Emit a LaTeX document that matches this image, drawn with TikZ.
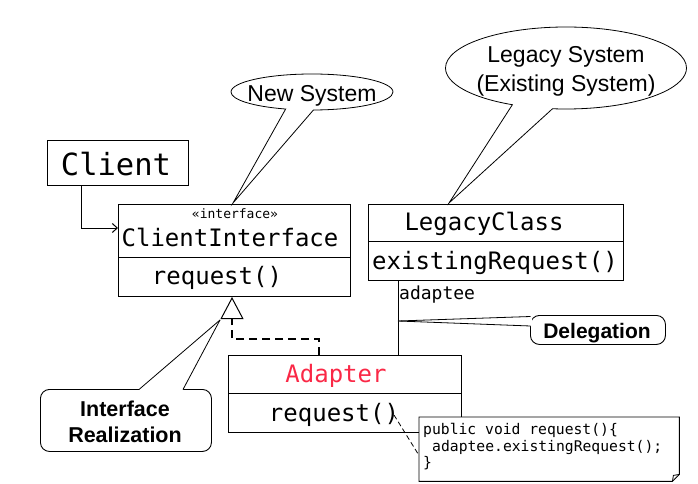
\documentclass[tikz,border=0pt]{standalone}
\usepackage{fontspec}
\setmainfont{Liberation Sans}
\newfontfamily\monof{DejaVu Sans Mono}
\usetikzlibrary{shapes.callouts,arrows.meta}
\definecolor{adred}{RGB}{250,40,70}
\tikzset{
  box/.style={draw, line width=1pt, anchor=north west, inner sep=0pt},
  lbl/.style={inner sep=0pt, anchor=base},
  bubble/.style={ellipse callout, draw, fill=white, line width=0.8pt, inner sep=0pt},
  callbox/.style={draw, fill=white, line width=0.9pt, rounded corners=9pt, anchor=north west, inner sep=0pt},
  tail/.style={line width=0.8pt},
  realize/.style={line width=1.1pt, dash pattern=on 8pt off 5pt, -{Triangle[open,length=22pt,width=23pt,line width=1pt]}},
  assoc/.style={line width=1pt, -{Straight Barb[length=5pt,width=9pt]}},
}
\begin{document}
\begin{tikzpicture}[x=1pt,y=-1pt]
\useasboundingbox (0,0) rectangle (698,484);

% Client
\node[box, minimum width=141, minimum height=45] (cl) at (47,140) {};
\node[lbl, font=\monof\fontsize{30.5}{30.5}\selectfont] (clt) at (116,175) {Client};

% ClientInterface
\node[box, minimum width=232, minimum height=53] (ci) at (118,204) {};
\node[box, minimum width=232, minimum height=39] (cib) at (118,257) {};
\node[lbl, font=\monof\fontsize{13}{13}\selectfont] (cis) at (235,218.5) {«interface»};
\node[lbl, font=\monof\fontsize{24}{24}\selectfont] (cit) at (230,246) {ClientInterface};
\node[lbl, font=\monof\fontsize{24}{24}\selectfont] (cir) at (217,284) {request()};

% LegacyClass
\node[box, minimum width=255, minimum height=37] (lc) at (368,204) {};
\node[box, minimum width=255, minimum height=39] (lcb) at (368,241) {};
\node[lbl, font=\monof\fontsize{24}{24}\selectfont] (lct) at (484,230) {LegacyClass};
\node[lbl, font=\monof\fontsize{24}{24}\selectfont] (lcr) at (495,269.5) {existingRequest()};
\node[inner sep=0pt, anchor=base west, font=\monof\fontsize{18}{18}\selectfont] (adt) at (399,299) {adaptee};

% Adapter
\node[box, minimum width=233, minimum height=38] (ad) at (228,355) {};
\node[box, minimum width=233, minimum height=39] (adb) at (228,393) {};
\node[lbl, text=adred, font=\monof\fontsize{24}{24}\selectfont] (adtx) at (336,382.5) {Adapter};
\node[lbl, font=\monof\fontsize{24}{24}\selectfont] (adr) at (334,421.5) {request()};

% connectors
\coordinate (ca) at (81,0);
\coordinate (cb) at (0,228);
\draw[assoc] (cl.south -| ca) |- (ci.west |- cb);
\coordinate (lx) at (398,0);
\draw[line width=1pt] (lcb.south -| lx) -- (ad.north -| lx);
\coordinate (rx) at (319,0);
\coordinate (tx) at (232,0);
\draw[realize] (ad.north -| rx) -- ++(0,-16) -| (cib.south -| tx);

% New System bubble
\node[bubble, minimum width=162, minimum height=36, callout absolute pointer={(233,203)}, callout pointer arc=20] (ns) at (312,92) {};
\node[lbl, font=\fontsize{23}{23}\selectfont] (nst) at (312,102) {New System};

% Legacy System bubble
\node[bubble, minimum width=241, minimum height=82, callout absolute pointer={(449,203)}, callout pointer arc=20] (ls) at (566,68) {};
\node[lbl, font=\fontsize{23}{23}\selectfont] (lst1) at (566,63) {Legacy System};
\node[lbl, font=\fontsize{23}{23}\selectfont] (lst2) at (566,92) {(Existing System)};

% Delegation callout
\node[callbox, minimum width=135, minimum height=29] (dg) at (530,315) {};
\node[lbl, font=\bfseries\fontsize{21}{21}\selectfont] (dgt) at (597,338) {Delegation};
\coordinate (dp) at (398,321);
\fill[white] (dp) -- (529,317) -- (532,317) -- (532,326) -- (529,326) -- cycle;
\draw[tail] (dp) -- (530.5,316.5);
\draw[tail] (dp) -- (530.5,326);

% Interface Realization callout
\node[callbox, minimum width=171, minimum height=62] (ir) at (40,389) {};
\node[lbl, font=\bfseries\fontsize{21.5}{21.5}\selectfont] (irt1) at (125,416) {Interface};
\node[lbl, font=\bfseries\fontsize{21.5}{21.5}\selectfont] (irt2) at (125,442) {Realization};
\coordinate (ip) at (220,320);
\fill[white] (ip) -- (139,388) -- (139,391) -- (183,391) -- (183,388) -- cycle;
\draw[tail] (ip) -- (139,389.5);
\draw[tail] (ip) -- (183,389.5);

% code note
\node[anchor=north west, minimum width=260, minimum height=64, inner sep=0pt] (note) at (419,417) {};
\draw[line width=0.9pt, fill=white] (note.north west) -- (note.north east) -- ([yshift=7pt]note.south east) -- ([xshift=-7pt]note.south east) -- (note.south west) -- cycle;
\draw[line width=0.8pt] ([yshift=7pt]note.south east) -- ([xshift=-6pt,yshift=6pt]note.south east) -- ([xshift=-7pt]note.south east);
\node[inner sep=0pt, anchor=base west, font=\monof\fontsize{14.7}{17.5}\selectfont] (code1) at (423,434) {public void request()\{};
\node[inner sep=0pt, anchor=base west, font=\monof\fontsize{14.7}{17.5}\selectfont] (code2) at (432,451) {adaptee.existingRequest();};
\node[inner sep=0pt, anchor=base west, font=\monof\fontsize{14.7}{17.5}\selectfont] (code3) at (423,467) {\}};
\coordinate (rq) at (394,415);
\draw[line width=0.8pt, dash pattern=on 5pt off 3pt] (rq) -- ([yshift=26pt]note.south west);
\end{tikzpicture}
\end{document}
